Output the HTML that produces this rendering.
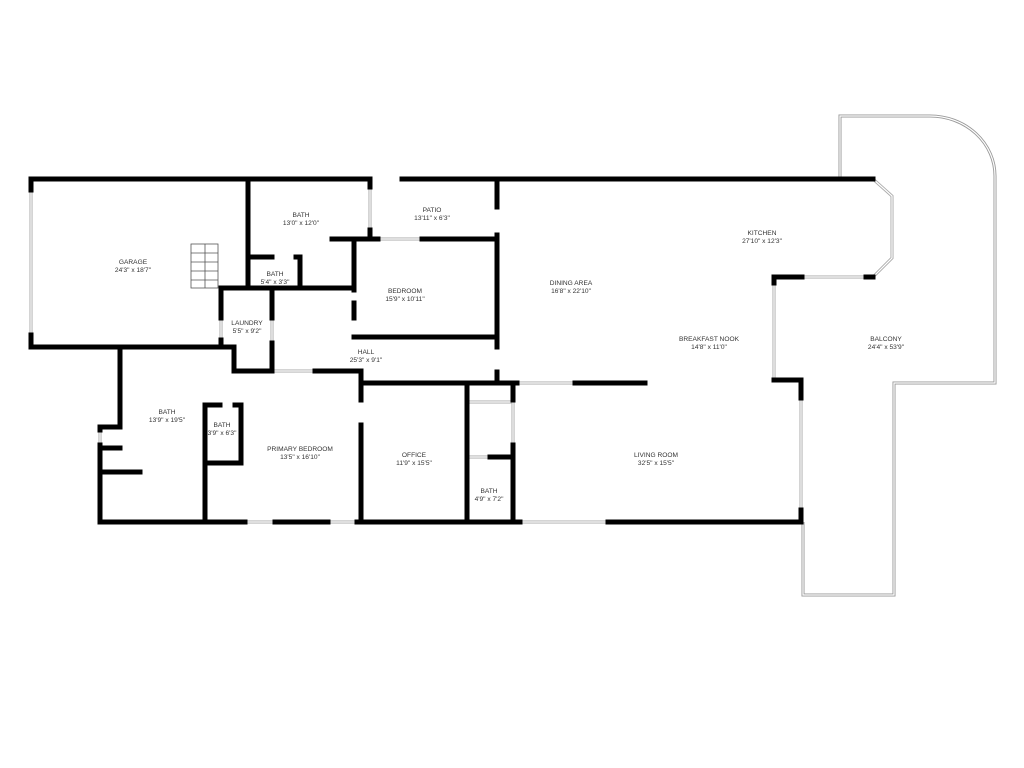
<!DOCTYPE html>
<html><head><meta charset="utf-8"><style>
html,body{margin:0;padding:0;background:#fff;width:1024px;height:768px;overflow:hidden}
text{font-family:"Liberation Sans",sans-serif;font-size:6.6px;fill:#333;text-anchor:middle}
</style></head><body>
<svg width="1024" height="768" viewBox="0 0 1024 768" xmlns="http://www.w3.org/2000/svg">
<!-- balcony outline -->
<g fill="none" stroke="#999" stroke-width="3">
<path d="M840,177 V116 H930 A65,60 0 0 1 995,176 V383 H894 V595 H803 V522"/>
</g>
<g fill="none" stroke="#fff" stroke-width="1.2">
<path d="M840,177 V116 H930 A65,60 0 0 1 995,176 V383 H894 V595 H803 V522"/>
</g>
<!-- windows (thin double lines) -->
<g fill="none" stroke="#aaa" stroke-width="3">
<path d="M31,190 V335 M370,187 V230 M378,239 H422 M221,318 V340 M272,318 V343 M100,430 V445 M513,400 V445 M245,522 H275 M328,522 H357 M520,522 H608 M873,179 L892,196 V258 L873,277 M802,277 H866 M774,283 V380 M801,398 V510 M517,383 H575 M273,371 H315 M467,402 H513 M467,457 H490"/>
</g>
<g fill="none" stroke="#fff" stroke-width="1.2">
<path d="M31,190 V335 M370,187 V230 M378,239 H422 M221,318 V340 M272,318 V343 M100,430 V445 M513,400 V445 M245,522 H275 M328,522 H357 M520,522 H608 M873,179 L892,196 V258 L873,277 M802,277 H866 M774,283 V380 M801,398 V510 M517,383 H575 M273,371 H315 M467,402 H513 M467,457 H490"/>
</g>
<!-- walls -->
<g fill="none" stroke="#000" stroke-width="5" stroke-linecap="square">
<path d="M31,179 H370 M402,179 H873"/>
<path d="M31,179 V190 M31,335 V347 H221"/>
<path d="M248,179 V288 M248,257 H272 M296,257 H300 V288 M221,288 H354"/>
<path d="M221,288 V318 M221,340 V347 H234 V371 H272 M272,288 V318 M272,343 V371"/>
<path d="M315,371 H361 V400 M361,425 V522"/>
<path d="M354,240 V290 M354,303 V318"/>
<path d="M332,239 H378 M422,239 H497 M354,337 H497"/>
<path d="M370,179 V187 M370,230 V239"/>
<path d="M497,179 V207 M497,235 V347 M497,372 V383"/>
<path d="M361,383 H517 M575,383 H645"/>
<path d="M467,383 V522 M513,383 V400 M513,445 V522 M490,457 H513"/>
<path d="M100,522 H245 M275,522 H328 M357,522 H520 M608,522 H801"/>
<path d="M120,347 V427 H100 V430 M100,445 V522 M100,448 H120 M100,472 H140"/>
<path d="M205,405 V522 M205,405 H220 M235,405 H241 V463 H205"/>
<path d="M802,277 H774 V283 M866,277 H873 M774,380 H801 V398 M801,510 V522"/>
</g>
<!-- stairs -->
<g fill="none" stroke="#555" stroke-width="0.8">
<rect x="191" y="244" width="27" height="44"/>
<path d="M191,253 H218 M191,262 H218 M191,271 H218 M191,280 H218 M205,244 V288"/>
</g>
<g>
<text x="133" y="264">GARAGE</text><text x="133" y="272">24'3" x 18'7"</text>
<text x="301" y="217">BATH</text><text x="301" y="225">13'0" x 12'0"</text>
<text x="432" y="212">PATIO</text><text x="432" y="220">13'11" x 6'3"</text>
<text x="275" y="276">BATH</text><text x="275" y="284">5'4" x 3'3"</text>
<text x="405" y="293">BEDROOM</text><text x="405" y="301">15'9" x 10'11"</text>
<text x="247" y="325">LAUNDRY</text><text x="247" y="333">5'5" x 9'2"</text>
<text x="366" y="354">HALL</text><text x="366" y="362">25'3" x 9'1"</text>
<text x="167" y="414">BATH</text><text x="167" y="422">13'9" x 19'5"</text>
<text x="222" y="427">BATH</text><text x="222" y="435">3'9" x 6'3"</text>
<text x="300" y="451">PRIMARY BEDROOM</text><text x="300" y="459">13'5" x 16'10"</text>
<text x="414" y="457">OFFICE</text><text x="414" y="465">11'9" x 15'5"</text>
<text x="489" y="493">BATH</text><text x="489" y="501">4'9" x 7'2"</text>
<text x="571" y="285">DINING AREA</text><text x="571" y="293">16'8" x 22'10"</text>
<text x="762" y="235">KITCHEN</text><text x="762" y="243">27'10" x 12'3"</text>
<text x="709" y="341">BREAKFAST NOOK</text><text x="709" y="349">14'8" x 11'0"</text>
<text x="886" y="341">BALCONY</text><text x="886" y="349">24'4" x 53'9"</text>
<text x="656" y="457">LIVING ROOM</text><text x="656" y="465">32'5" x 15'5"</text>
</g>
</svg>
</body></html>
